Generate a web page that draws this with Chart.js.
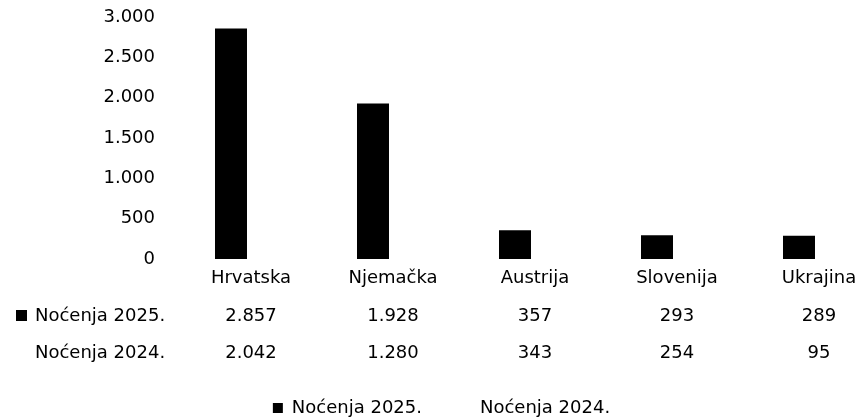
<!DOCTYPE html>
<html><head><meta charset="utf-8">
<script src="https://cdn.jsdelivr.net/npm/chart.js@4.4.1/dist/chart.umd.min.js"></script>
<style>html,body{margin:0;padding:0;background:#fff}#wrap{width:862px;height:420px;position:relative}</style>
</head><body><div id="wrap"><canvas id="c"></canvas></div>
<script>
const countries = ['Hrvatska', 'Njemačka', 'Austrija', 'Slovenija', 'Ukrajina'];
const seriesNames = ['Noćenja 2025.', 'Noćenja 2024.'];
const nights2025 = [2857, 1928, 357, 293, 289];
const nights2024 = [2042, 1280, 343, 254, 95];
const yTicks = [0, 500, 1000, 1500, 2000, 2500, 3000];
const FONT = 'DejaVu Sans';
function fmt(v) { return String(v).replace(/\B(?=(\d{3})+(?!\d))/g, '.'); }

const bgPlugin = {
  id: 'bg',
  beforeDraw(chart) {
    const ctx = chart.ctx;
    ctx.save(); ctx.fillStyle = '#fff'; ctx.fillRect(0, 0, chart.width, chart.height); ctx.restore();
  }
};

const tablePlugin = {
  id: 'dataTable',
  afterDraw(chart) {
    const ctx = chart.ctx, xs = chart.scales.x;
    ctx.save();
    ctx.font = '18px "' + FONT + '"';
    ctx.fillStyle = '#000';
    ctx.textBaseline = 'middle';
    const rows = [
      { name: seriesNames[0], data: nights2025, y: xs.top + 57, marker: true },
      { name: seriesNames[1], data: nights2024, y: xs.top + 94, marker: false }
    ];
    rows.forEach(r => {
      ctx.textAlign = 'left';
      ctx.fillText(r.name, 35, r.y);
      if (r.marker) ctx.fillRect(16, r.y - 6, 11, 11);
      ctx.textAlign = 'center';
      r.data.forEach((v, i) => ctx.fillText(fmt(v), xs.getPixelForValue(i), r.y));
    });
    ctx.restore();
  }
};

new Chart(document.getElementById('c'), {
  type: 'bar',
  data: {
    labels: countries,
    datasets: [
      { label: seriesNames[0], data: nights2025, backgroundColor: '#000', borderWidth: 0, clip: false,
        categoryPercentage: 0.5634, barPercentage: 0.8 },
      { label: seriesNames[1], data: nights2024, backgroundColor: '#fff', borderWidth: 0, clip: false,
        categoryPercentage: 0.5634, barPercentage: 0.8 }
    ]
  },
  options: {
    responsive: true, maintainAspectRatio: false, animation: false, devicePixelRatio: 1,
    layout: { padding: { left: 21, right: 0, top: 17, bottom: -7 } },
    plugins: {
      legend: {
        position: 'bottom',
        labels: { boxWidth: 10, boxHeight: 10, padding: 39, color: '#000', font: { family: FONT, size: 18 } }
      },
      tooltip: { enabled: false }
    },
    scales: {
      x: {
        offset: false,
        grid: { display: false, drawTicks: false }, border: { display: false },
        ticks: { color: '#000', font: { family: FONT, size: 18 }, padding: 9, maxRotation: 0, autoSkip: false },
        afterFit(s) { s.height = 101; s.paddingLeft = 0; s.paddingRight = 0; }
      },
      y: {
        min: 0, max: 3000,
        grid: { display: false, drawTicks: false }, border: { display: false },
        ticks: { color: '#000', font: { family: FONT, size: 18 }, padding: 96, callback: v => fmt(v) },
        afterBuildTicks(s) { s.ticks = yTicks.map(v => ({ value: v })); },
        afterFit(s) { s.width = 230; s.paddingTop = 0; s.paddingBottom = 0; }
      },
      yR: {
        position: 'right', display: true,
        grid: { display: false, drawTicks: false }, border: { display: false },
        ticks: { display: false },
        afterFit(s) { s.width = 43; s.paddingTop = 0; s.paddingBottom = 0; }
      }
    }
  },
  plugins: [bgPlugin, tablePlugin]
});
</script></body></html>
